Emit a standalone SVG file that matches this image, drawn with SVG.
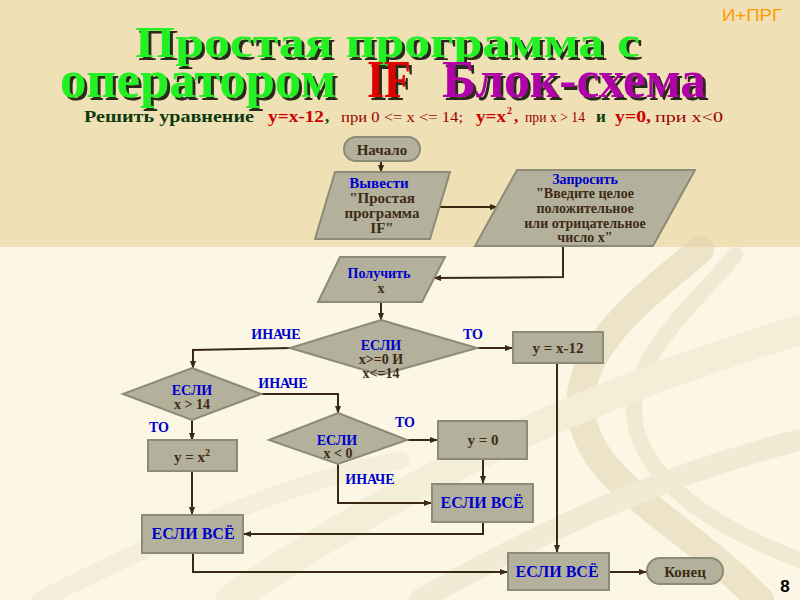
<svg xmlns="http://www.w3.org/2000/svg" width="800" height="600" viewBox="0 0 800 600">
<defs>
<marker id="ah" markerWidth="8" markerHeight="6" refX="7" refY="3" orient="auto" markerUnits="userSpaceOnUse">
<path d="M0,0 L8,3 L0,6 Z" fill="#3B2A12"/>
</marker>
<filter id="sh" x="-5%" y="-20%" width="110%" height="140%">
<feOffset in="SourceAlpha" dx="3" dy="3" result="o"/>
<feFlood flood-color="#2A2A1A" result="f"/>
<feComposite in="f" in2="o" operator="in" result="s"/>
<feMerge><feMergeNode in="s"/><feMergeNode in="SourceGraphic"/></feMerge>
</filter>
<style>
.n{fill:#B3B19B;stroke:#8C8B75;stroke-width:2}
.c{fill:none;stroke:#3B2A12;stroke-width:2;marker-end:url(#ah)}
.b{font-family:"Liberation Serif",serif;font-weight:bold;fill:#0000CC;text-anchor:middle}
.t{font-family:"Liberation Serif",serif;font-weight:bold;fill:#3D2B14;text-anchor:middle}
.sub{font-family:"Liberation Serif",serif}
.ti{font-family:"Liberation Serif",serif;font-weight:bold;filter:url(#sh)}
</style>
</defs>
<rect x="0" y="0" width="800" height="600" fill="#FBF7E4"/>
<rect x="0" y="0" width="800" height="247" fill="#EFE0B6"/>
<g fill="none" stroke-linecap="round" opacity="0.55">
<path d="M700,250 C640,300 560,360 585,430 C605,490 680,520 760,600" stroke="#E3D4B4" stroke-width="28"/>
<path d="M735,255 C700,300 610,370 640,440 C660,490 720,530 800,560" stroke="#EBDFC6" stroke-width="16"/>
<path d="M230,600 C420,470 600,390 800,330" stroke="#EFE5CF" stroke-width="30"/>
<path d="M420,600 C560,520 680,470 800,440" stroke="#EAE0C8" stroke-width="22"/>
<path d="M40,600 C200,520 300,480 400,460" stroke="#F0E7D2" stroke-width="18"/>
</g>
<g id="header">
<text x="722" y="21" font-family="'Liberation Sans',sans-serif" font-size="16" fill="#FF9A00" textLength="60" lengthAdjust="spacingAndGlyphs">И+ПРГ</text>
<text class="ti" x="135" y="57" font-size="44" fill="#22F022" textLength="505" lengthAdjust="spacingAndGlyphs">Простая программа с</text>
<text class="ti" y="97" font-size="52"><tspan x="60" fill="#22F022" textLength="276" lengthAdjust="spacingAndGlyphs">оператором</tspan><tspan x="367" fill="#E00000" textLength="44" lengthAdjust="spacingAndGlyphs">IF</tspan><tspan x="442" fill="#B000A8" textLength="264" lengthAdjust="spacingAndGlyphs">Блок-схема</tspan></text>
<text class="sub" y="122" font-weight="bold"><tspan x="84" font-size="17" fill="#0E3A0E" textLength="170" lengthAdjust="spacingAndGlyphs">Решить  уравнение</tspan><tspan x="268" font-size="17" fill="#CC0000" textLength="56" lengthAdjust="spacingAndGlyphs">y=x-12</tspan><tspan x="325" font-size="17" fill="#0E3A0E">,</tspan><tspan x="341" font-size="14" font-weight="normal" fill="#990000" textLength="122" lengthAdjust="spacingAndGlyphs">при 0 &lt;= x &lt;= 14;</tspan><tspan x="476" font-size="17" fill="#CC0000" textLength="30" lengthAdjust="spacingAndGlyphs">y=x</tspan><tspan x="507" y="114" font-size="10" fill="#CC0000">2</tspan><tspan x="514" y="122" font-size="17" fill="#CC0000">,</tspan><tspan x="525" font-size="14" font-weight="normal" fill="#990000" textLength="60" lengthAdjust="spacingAndGlyphs">при x &gt; 14</tspan><tspan x="596" font-size="17" fill="#0E3A0E">и</tspan><tspan x="615" font-size="17" fill="#CC0000" textLength="36" lengthAdjust="spacingAndGlyphs">y=0,</tspan><tspan x="655" font-size="14" font-weight="normal" fill="#990000" textLength="68" lengthAdjust="spacingAndGlyphs">при x&lt;0</tspan></text>
<text x="785" y="592" font-family="'Liberation Sans',sans-serif" font-size="17" font-weight="bold" fill="#000" text-anchor="middle">8</text>
</g>
<g id="connectors">
<path class="c" d="M381,161 L381,172"/>
<path class="c" d="M440,207 L497,207"/>
<path class="c" d="M563,246 L563,277 L434,278"/>
<path class="c" d="M381,302 L381,320"/>
<path class="c" d="M477,348 L512,348"/>
<path class="c" d="M290,348 L193,350 L193,368"/>
<path class="c" d="M261,394 L338,394 L338,413"/>
<path class="c" d="M192,420 L192,440"/>
<path class="c" d="M407,440 L437,440"/>
<path class="c" d="M483,459 L483,483"/>
<path class="c" d="M338,463 L338,503 L431,503"/>
<path class="c" d="M483,522 L483,534 L244,534"/>
<path class="c" d="M192,471 L192,514"/>
<path class="c" d="M193,553 L193,572 L507,572"/>
<path class="c" d="M557,363 L557,552"/>
<path class="c" d="M609,572 L646,572"/>
</g>
<g id="start">
<rect class="n" x="344" y="137" width="76" height="24" rx="12"/>
<text class="t" x="382" y="155" font-size="15">Начало</text>
</g>
<g id="output">
<polygon class="n" points="335,172 450,172 430,239 315,239"/>
<text class="b" x="379" y="188" font-size="15">Вывести</text>
<text class="t" x="382" y="203" font-size="15">"Простая</text>
<text class="t" x="382" y="218" font-size="15">программа</text>
<text class="t" x="382" y="233" font-size="15">IF"</text>
</g>
<g id="ask">
<polygon class="n" points="517,170 695,170 653,246 475,246"/>
<text class="b" x="585" y="184" font-size="14">Запросить</text>
<text class="t" x="585" y="198" font-size="14">"Введите целое</text>
<text class="t" x="585" y="213" font-size="14">положительное</text>
<text class="t" x="585" y="228" font-size="14">или отрицательное</text>
<text class="t" x="585" y="242" font-size="14">число   x"</text>
</g>
<g id="input">
<polygon class="n" points="340,257 445,257 422,302 318,302"/>
<text class="b" x="379" y="278" font-size="14">Получить</text>
<text class="t" x="381" y="293" font-size="14">x</text>
</g>
<g id="if1">
<polygon class="n" points="381,320 477,348 381,375 290,348"/>
<text class="b" x="381" y="350" font-size="14">ЕСЛИ</text>
<text class="t" x="381" y="364" font-size="14">x&gt;=0 И</text>
<text class="t" x="381" y="378" font-size="14">x&lt;=14</text>
<text class="b" x="276" y="339" font-size="14">ИНАЧЕ</text>
<text class="b" x="473" y="339" font-size="14">ТО</text>
</g>
<g id="y1">
<rect class="n" x="513" y="332" width="90" height="31"/>
<text class="t" x="558" y="353" font-size="15">y = x-12</text>
</g>
<g id="if2">
<polygon class="n" points="192,368 261,394 192,420 123,394"/>
<text class="b" x="192" y="395" font-size="14">ЕСЛИ</text>
<text class="t" x="192" y="409" font-size="14">x &gt; 14</text>
<text class="b" x="283" y="388" font-size="14">ИНАЧЕ</text>
<text class="b" x="159" y="432" font-size="14">ТО</text>
</g>
<g id="y2">
<rect class="n" x="148" y="440" width="89" height="31"/>
<text class="t" x="192" y="462" font-size="15">y = x<tspan font-size="10" dy="-6">2</tspan></text>
</g>
<g id="if3">
<polygon class="n" points="338,413 407,440 338,464 269,440"/>
<text class="b" x="337" y="445" font-size="14">ЕСЛИ</text>
<text class="t" x="338" y="458" font-size="14">x &lt; 0</text>
<text class="b" x="405" y="427" font-size="14">ТО</text>
<text class="b" x="370" y="484" font-size="14">ИНАЧЕ</text>
</g>
<g id="y3">
<rect class="n" x="438" y="421" width="89" height="38"/>
<text class="t" x="483" y="445" font-size="15">y = 0</text>
</g>
<g id="endif3">
<rect class="n" x="432" y="484" width="101" height="38"/>
<text class="b" x="482" y="508" font-size="16">ЕСЛИ ВСЁ</text>
</g>
<g id="endif2">
<rect class="n" x="142" y="515" width="101" height="38"/>
<text class="b" x="193" y="539" font-size="16">ЕСЛИ ВСЁ</text>
</g>
<g id="endif1">
<rect class="n" x="508" y="553" width="101" height="37"/>
<text class="b" x="557" y="577" font-size="16">ЕСЛИ ВСЁ</text>
</g>
<g id="end">
<rect class="n" x="647" y="558" width="76" height="26" rx="13"/>
<text class="t" x="685" y="577" font-size="15">Конец</text>
</g>
</svg>
